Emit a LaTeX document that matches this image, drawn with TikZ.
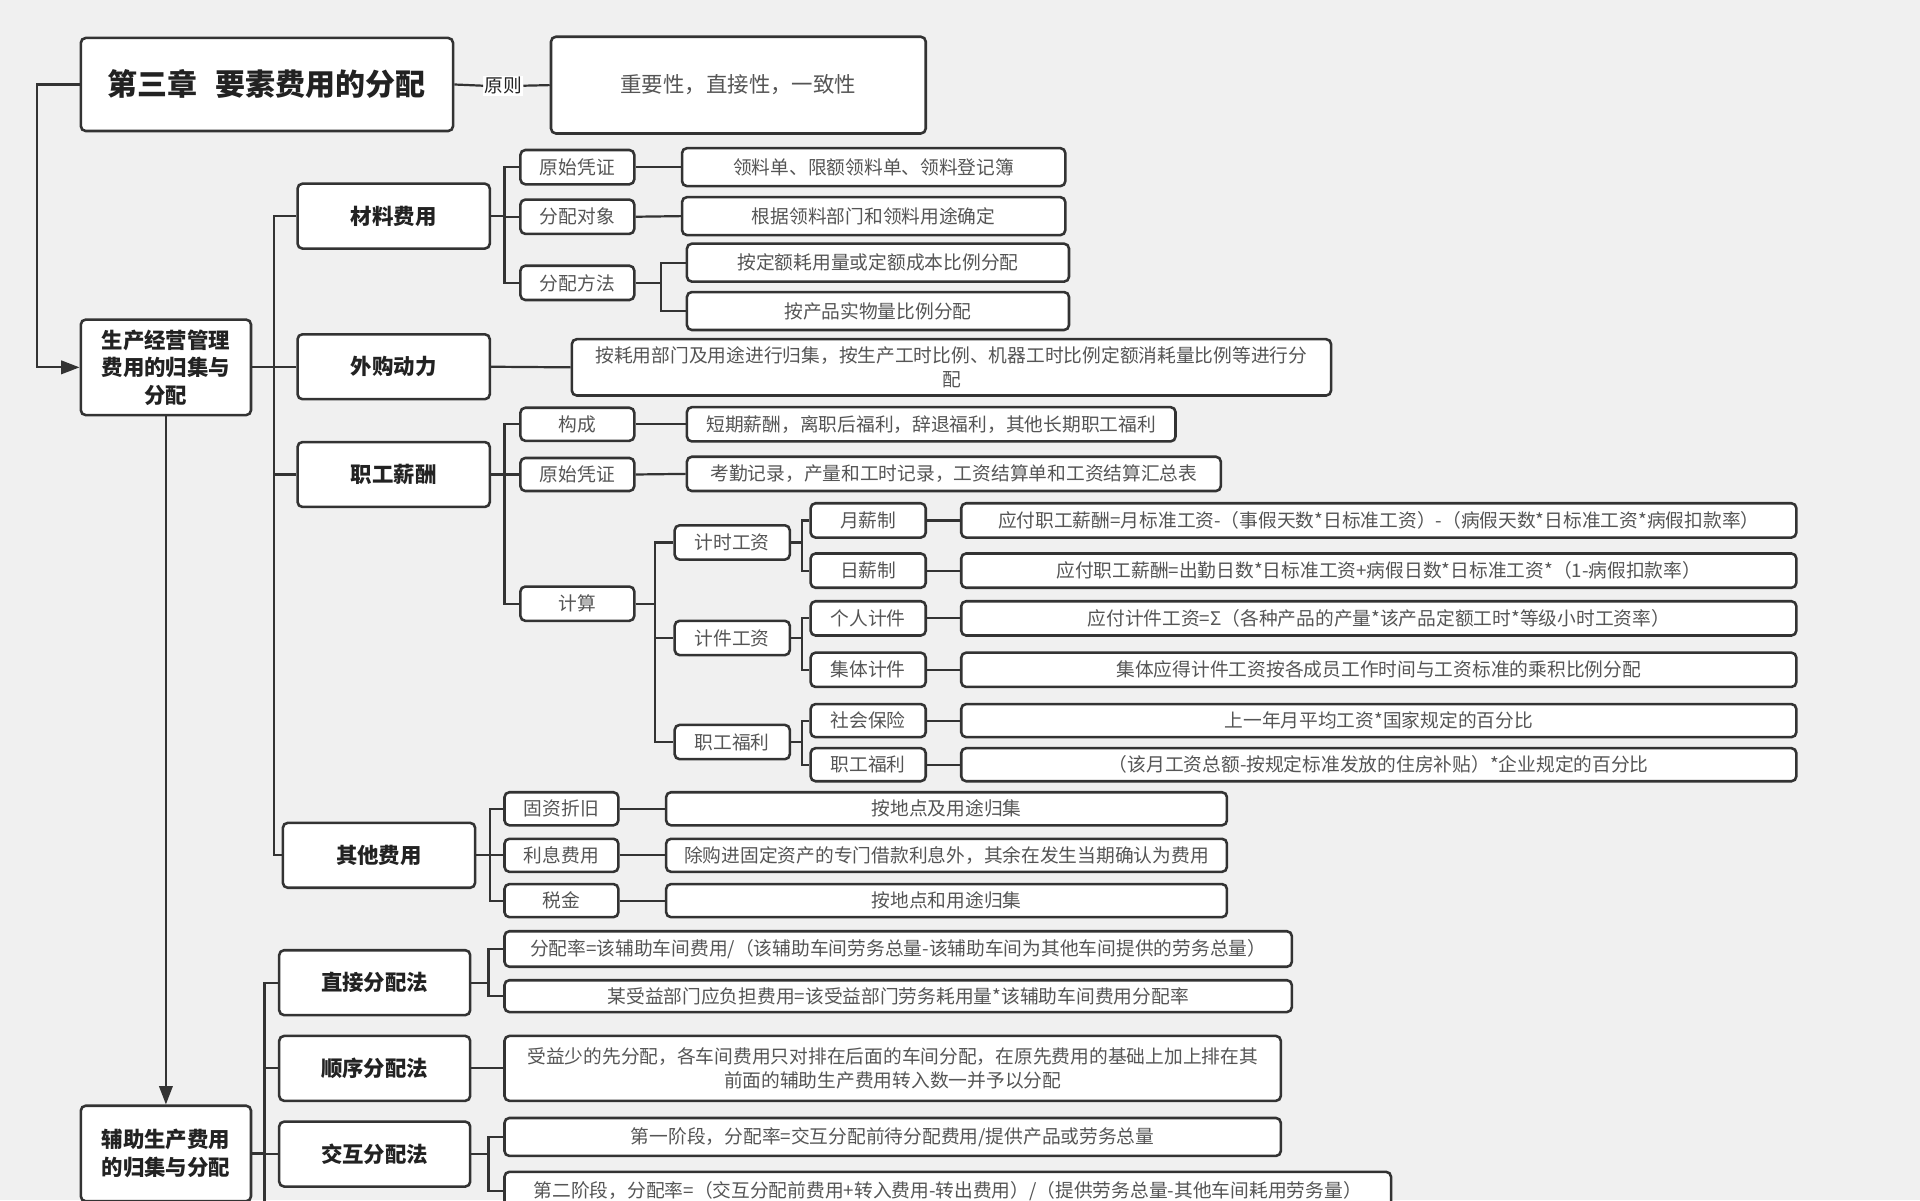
\documentclass[tikz,border=0pt]{standalone}
\usepackage{fontspec}
\setmainfont{Noto Sans CJK SC}
\usetikzlibrary{arrows.meta}
\definecolor{bgc}{HTML}{F0F0F0}
\definecolor{lnc}{HTML}{333333}
\definecolor{hdc}{HTML}{222222}
\definecolor{txc}{HTML}{555555}
\newcommand\myTitleFont{\fontsize{24.5}{28}\selectfont\bfseries}
\newcommand\myHeadFont{\fontsize{17.5}{22.5}\selectfont\bfseries}
\newcommand\myLeafFont{\fontsize{15.3}{20}\selectfont}
\newcommand\myPrinFont{\fontsize{17.5}{20}\selectfont}
\tikzset{
  box/.style={draw=lnc, line width=2.1pt, fill=white, rounded corners=4pt, inner sep=0pt, align=center, anchor=center},
  hbox/.style={box, font=\myHeadFont, text=hdc, minimum width=157pt, minimum height=53pt},
  sbox/.style={box, font=\myLeafFont, text=txc, minimum width=93pt, minimum height=28pt},
  lbox/.style={box, font=\myLeafFont, text=txc, minimum height=28pt},
  conn/.style={draw=lnc, line width=1.8pt},
  arr/.style={conn, -{Triangle[length=15pt,width=11pt]}},
}
\begin{document}
\begin{tikzpicture}[x=1pt,y=-1pt]
\useasboundingbox (0,0) rectangle (1568,980);
\fill[bgc] (0,0) rectangle (1568,980);
\clip (0,0) rectangle (1568,980);

% bus coordinates
\coordinate (bL) at (30,0);
\coordinate (bA) at (224,0);
\coordinate (bM) at (412,0);
\coordinate (bMF) at (540,0);
\coordinate (bS) at (412,0);
\coordinate (bC) at (535,0);
\coordinate (bT) at (655,0);
\coordinate (bO) at (400,0);
\coordinate (bB) at (216,0);
\coordinate (bBend) at (216,995);
\coordinate (bD) at (399,0);

% top
\node[box, font=\myTitleFont, text=hdc, minimum width=304pt, minimum height=76pt] (title) at (218,69) {第三章\hspace{0.6em}要素费用的分配};
\node[box, font=\myPrinFont, text=txc, minimum width=306pt, minimum height=79pt] (prin) at (603,69.5) {重要性，直接性，一致性};
\node[fill=white, inner sep=1pt, font=\myLeafFont, text=hdc] (yz) at (411,70) {原则};

% level 1
\node[box, font=\myHeadFont, text=hdc, minimum width=139pt, minimum height=78pt] (A) at (135.5,300) {生产经营管理\\费用的归集与\\分配};
\node[box, font=\myHeadFont, text=hdc, minimum width=139pt, minimum height=78pt] (B) at (135.5,942) {辅助生产费用\\的归集与分配};

% level 2 under A
\node[hbox] (mat) at (321.5,176.5) {材料费用};
\node[hbox] (pow) at (321.5,299.5) {外购动力};
\node[hbox] (sal) at (321.5,387.5) {职工薪酬};
\node[hbox] (oth) at (309.5,698.5) {其他费用};

% materials
\node[sbox] (m1) at (471.5,136.5) {原始凭证};
\node[sbox] (m2) at (471.5,177) {分配对象};
\node[sbox] (m3) at (471.5,231) {分配方法};
\node[lbox, minimum width=313pt, minimum height=31pt] (m1l) at (713.5,136.5) {领料单、限额领料单、领料登记簿};
\node[lbox, minimum width=313pt, minimum height=31pt] (m2l) at (713.5,176.5) {根据领料部门和领料用途确定};
\node[lbox, minimum width=312pt, minimum height=31pt] (m3a) at (717,214.5) {按定额耗用量或定额成本比例分配};
\node[lbox, minimum width=312pt, minimum height=31pt] (m3b) at (717,254) {按产品实物量比例分配};

% power
\node[lbox, minimum width=620pt, minimum height=46pt] (powl) at (777,300) {按耗用部门及用途进行归集，按生产工时比例、机器工时比例定额消耗量比例等进行分\\配};

% salary
\node[sbox, minimum height=27pt] (s1) at (471.5,346.5) {构成};
\node[sbox, minimum height=27pt] (s2) at (471.5,387.5) {原始凭证};
\node[sbox] (s3) at (471.5,493) {计算};
\node[lbox, minimum width=399pt] (s1l) at (760.5,346.5) {短期薪酬，离职后福利，辞退福利，其他长期职工福利};
\node[lbox, minimum width=436pt] (s2l) at (779,387) {考勤记录，产量和工时记录，工资结算单和工资结算汇总表};

\node[sbox, minimum width=94pt] (c1) at (598,443) {计时工资};
\node[sbox, minimum width=94pt] (c2) at (598,521) {计件工资};
\node[sbox, minimum width=94pt] (c3) at (598,606) {职工福利};

\node[sbox, minimum width=94pt] (t1) at (709,425) {月薪制};
\node[sbox, minimum width=94pt] (t2) at (709,466) {日薪制};
\node[sbox, minimum width=94pt] (t3) at (709,505) {个人计件};
\node[sbox, minimum width=94pt] (t4) at (709,547) {集体计件};
\node[sbox, minimum width=94pt, minimum height=27pt] (t5) at (709,588.5) {社会保险};
\node[sbox, minimum width=94pt, minimum height=27pt] (t6) at (709,624.5) {职工福利};

\node[lbox, minimum width=682pt] (f1) at (1126,425) {应付职工薪酬=月标准工资-（事假天数*日标准工资）-（病假天数*日标准工资*病假扣款率）};
\node[lbox, minimum width=682pt] (f2) at (1126,466) {应付职工薪酬=出勤日数*日标准工资+病假日数*日标准工资*（1-病假扣款率）};
\node[lbox, minimum width=682pt] (f3) at (1126,505) {应付计件工资=Σ（各种产品的产量*该产品定额工时*等级小时工资率）};
\node[lbox, minimum width=682pt] (f4) at (1126,547) {集体应得计件工资按各成员工作时间与工资标准的乘积比例分配};
\node[lbox, minimum width=682pt, minimum height=27pt] (f5) at (1126,588.5) {上一年月平均工资*国家规定的百分比};
\node[lbox, minimum width=682pt, minimum height=27pt] (f6) at (1126,624.5) {（该月工资总额-按规定标准发放的住房补贴）*企业规定的百分比};

% other
\node[sbox, minimum height=27pt] (o1) at (458.5,660.5) {固资折旧};
\node[sbox, minimum height=27pt] (o2) at (458.5,698.5) {利息费用};
\node[sbox, minimum height=27pt] (o3) at (458.5,735.5) {税金};
\node[lbox, minimum width=458pt, minimum height=27pt] (o1l) at (773,660.5) {按地点及用途归集};
\node[lbox, minimum width=458pt, minimum height=27pt] (o2l) at (773,698.5) {除购进固定资产的专门借款利息外，其余在发生当期确认为费用};
\node[lbox, minimum width=458pt, minimum height=27pt] (o3l) at (773,735.5) {按地点和用途归集};

% auxiliary
\node[hbox, minimum width=156pt] (d1) at (306,802.5) {直接分配法};
\node[hbox, minimum width=156pt] (d2) at (306,872.5) {顺序分配法};
\node[hbox, minimum width=156pt] (d3) at (306,942.5) {交互分配法};
\node[lbox, minimum width=643pt, minimum height=29pt] (d1a) at (733.5,775) {分配率=该辅助车间费用/（该辅助车间劳务总量-该辅助车间为其他车间提供的劳务总量）};
\node[lbox, minimum width=643pt, minimum height=26pt] (d1b) at (733.5,813.5) {某受益部门应负担费用=该受益部门劳务耗用量*该辅助车间费用分配率};
\node[lbox, minimum width=634pt, minimum height=53pt] (d2l) at (729,872.5) {受益少的先分配，各车间费用只对排在后面的车间分配，在原先费用的基础上加上排在其\\前面的辅助生产费用转入数一并予以分配};
\node[lbox, minimum width=634pt, minimum height=31pt] (d3a) at (729,928.5) {第一阶段，分配率=交互分配前待分配费用/提供产品或劳务总量};
\node[lbox, minimum width=724pt, minimum height=31pt] (d3b) at (774,972.5) {第二阶段，分配率=（交互分配前费用+转入费用-转出费用）/（提供劳务总量-其他车间耗用劳务量）};

% connectors top
\draw[conn] (title.east) -- (yz.west);
\draw[conn] (yz.east) -- (prin.west);
\draw[arr] (title.west) -- (title.west -| bL) |- (A.west);
\draw[arr] (A.south) -- (B.north);

% A children
\foreach \c in {mat,pow,sal,oth}
  \draw[conn] (A.east) -- (A.east -| bA) |- (\c.west);

% materials
\foreach \c in {m1,m2,m3}
  \draw[conn] (mat.east) -- (mat.east -| bM) |- (\c.west);
\draw[conn] (m1.east) -- (m1l.west);
\draw[conn] (m2.east) -- (m2l.west);
\foreach \c in {m3a,m3b}
  \draw[conn] (m3.east) -- (m3.east -| bMF) |- (\c.west);

% power
\draw[conn] (pow.east) -- (powl.west);

% salary
\foreach \c in {s1,s2,s3}
  \draw[conn] (sal.east) -- (sal.east -| bS) |- (\c.west);
\draw[conn] (s1.east) -- (s1l.west);
\draw[conn] (s2.east) -- (s2l.west);
\foreach \c in {c1,c2,c3}
  \draw[conn] (s3.east) -- (s3.east -| bC) |- (\c.west);
\foreach \c in {t1,t2}
  \draw[conn] (c1.east) -- (c1.east -| bT) |- (\c.west);
\foreach \c in {t3,t4}
  \draw[conn] (c2.east) -- (c2.east -| bT) |- (\c.west);
\foreach \c in {t5,t6}
  \draw[conn] (c3.east) -- (c3.east -| bT) |- (\c.west);
\draw[conn] (t1.east) -- (f1.west);
\draw[conn] (t2.east) -- (f2.west);
\draw[conn] (t3.east) -- (f3.west);
\draw[conn] (t4.east) -- (f4.west);
\draw[conn] (t5.east) -- (f5.west);
\draw[conn] (t6.east) -- (f6.west);

% other
\foreach \c in {o1,o2,o3}
  \draw[conn] (oth.east) -- (oth.east -| bO) |- (\c.west);
\draw[conn] (o1.east) -- (o1l.west);
\draw[conn] (o2.east) -- (o2l.west);
\draw[conn] (o3.east) -- (o3l.west);

% auxiliary
\foreach \c in {d1,d2,d3}
  \draw[conn] (B.east) -- (B.east -| bB) |- (\c.west);
\draw[conn] (B.east -| bB) -- (bBend);
\foreach \c in {d1a,d1b}
  \draw[conn] (d1.east) -- (d1.east -| bD) |- (\c.west);
\draw[conn] (d2.east) -- (d2l.west);
\foreach \c in {d3a,d3b}
  \draw[conn] (d3.east) -- (d3.east -| bD) |- (\c.west);
\end{tikzpicture}
\end{document}
